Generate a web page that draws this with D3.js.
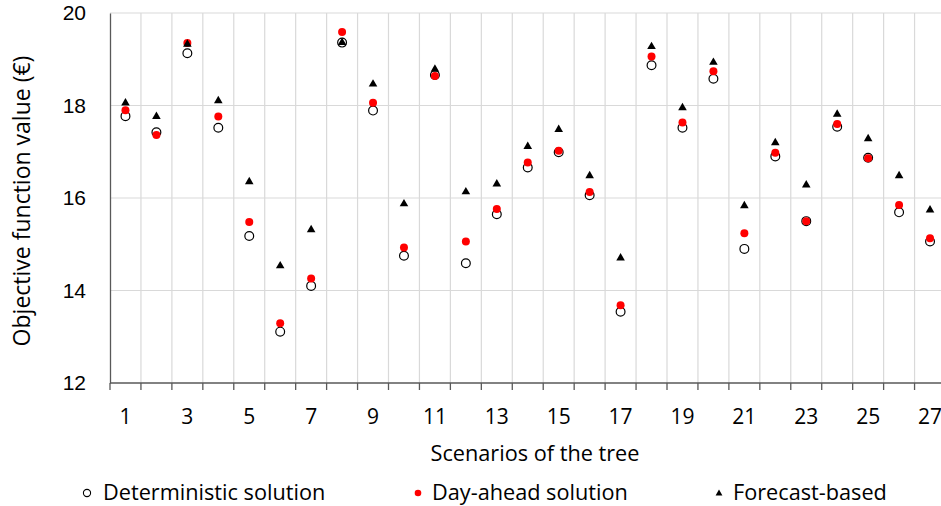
<!DOCTYPE html>
<html>
<head>
<meta charset="utf-8">
<script src="https://cdn.jsdelivr.net/npm/d3@7"></script>
<style>
  html, body { margin: 0; padding: 0; background: #fff; }
  svg { display: block; font-family: "Open Sans", "Liberation Sans", sans-serif; }
</style>
</head>
<body>
<svg id="chart" width="941" height="506"></svg>
<script>
const scenarios = d3.range(1, 28);
const deterministic = [17.77, 17.42, 19.13, 17.52, 15.18, 13.11, 14.10, 19.36, 17.89, 14.75,
  18.66, 14.59, 15.65, 16.66, 16.99, 16.06, 13.54, 18.87, 17.52, 18.58, 14.90, 16.90, 15.50,
  17.54, 16.87, 15.69, 15.06];
const dayAhead = [17.90, 17.36, 19.35, 17.76, 15.48, 13.29, 14.26, 19.59, 18.06, 14.93,
  18.64, 15.06, 15.76, 16.77, 17.02, 16.13, 13.68, 19.06, 17.63, 18.74, 15.24, 16.98, 15.50,
  17.60, 16.86, 15.85, 15.13];
const forecastBased = [18.07, 17.78, 19.34, 18.12, 16.37, 14.55, 15.33, 19.38, 18.48, 15.89,
  18.80, 16.15, 16.32, 17.13, 17.50, 16.50, 14.72, 19.29, 17.97, 18.95, 15.85, 17.21, 16.30,
  17.83, 17.30, 16.50, 15.76];
const yTicks = [12, 14, 16, 18, 20];
const seriesNames = ["Deterministic solution", "Day-ahead solution", "Forecast-based"];

const svg = d3.select("#chart");
const x = d3.scaleBand().domain(scenarios).range([110, 945.5]).padding(0);
const y = d3.scaleLinear().domain([12, 20]).range([383, 13]);
const gridColor = "#d9d9d9";
const axisColor = "#595959";
const fs = 21.7;
const fsTick = 21;

// vertical gridlines at category boundaries
svg.append("g").selectAll("line").data(scenarios.slice(1)).join("line")
  .attr("x1", d => x(d)).attr("x2", d => x(d))
  .attr("y1", y(20)).attr("y2", y(12))
  .attr("stroke", gridColor).attr("stroke-width", 1.2);

// horizontal gridlines
svg.append("g").selectAll("line").data(yTicks.filter(t => t > 12)).join("line")
  .attr("x1", 110).attr("x2", 945.5)
  .attr("y1", d => y(d)).attr("y2", d => y(d))
  .attr("stroke", gridColor).attr("stroke-width", 1.2);

// y axis
const yAxis = svg.append("g").attr("transform", "translate(110,0)")
  .call(d3.axisLeft(y).tickValues(yTicks).tickSize(0).tickPadding(24).tickFormat(d3.format("d")));
yAxis.select(".domain").attr("stroke", axisColor).attr("stroke-width", 1.3);
yAxis.selectAll("text").attr("font-size", fsTick).attr("fill", "#000").attr("font-family", null);

// x axis with ticks at band boundaries
const xAxisG = svg.append("g").attr("transform", `translate(0,${y(12)})`);
xAxisG.append("line").attr("x1", 110).attr("x2", 945.5).attr("y1", 0).attr("y2", 0)
  .attr("stroke", axisColor).attr("stroke-width", 1.3);
xAxisG.selectAll("line.tick").data(scenarios).join("line").attr("class", "tick")
  .attr("x1", d => x(d)).attr("x2", d => x(d)).attr("y1", 0).attr("y2", 7)
  .attr("stroke", axisColor).attr("stroke-width", 1.3);
xAxisG.selectAll("text").data(scenarios.filter(d => d % 2 === 1)).join("text")
  .attr("x", d => x(d) + x.bandwidth() / 2).attr("y", 41)
  .attr("text-anchor", "middle").attr("font-size", fsTick).attr("fill", "#000")
  .text(d => d);

// axis titles
svg.append("text").attr("x", 535).attr("y", 461).attr("text-anchor", "middle")
  .attr("font-size", fs).attr("fill", "#000").text("Scenarios of the tree");
svg.append("text").attr("transform", "translate(30,201) rotate(-90)")
  .attr("text-anchor", "middle").attr("font-size", 23).attr("fill", "#000")
  .text("Objective function value (€)");

const cx = (d, i) => x(scenarios[i]) + x.bandwidth() / 2;
const plot = svg.append("g");
plot.selectAll("circle.det").data(deterministic).join("circle").attr("class", "det")
  .attr("cx", cx).attr("cy", d => y(d)).attr("r", 4.4)
  .attr("fill", "#fff").attr("stroke", "#000").attr("stroke-width", 1.2);
plot.selectAll("circle.da").data(dayAhead).join("circle").attr("class", "da")
  .attr("cx", cx).attr("cy", d => y(d)).attr("r", 4)
  .attr("fill", "#ff0000");
const tri = d3.symbol().type(d3.symbolTriangle).size(32);
plot.selectAll("path.fb").data(forecastBased).join("path").attr("class", "fb")
  .attr("transform", (d, i) => `translate(${cx(d, i)},${y(d) + 0.8})`)
  .attr("d", tri).attr("fill", "#000");

// legend
const leg = svg.append("g");
const legY = 493;
leg.append("circle").attr("cx", 87).attr("cy", legY).attr("r", 3.6)
  .attr("fill", "#fff").attr("stroke", "#000").attr("stroke-width", 1.1);
leg.append("text").attr("x", 103).attr("y", 500).attr("font-size", fs).text(seriesNames[0]);
leg.append("circle").attr("cx", 418).attr("cy", legY).attr("r", 3.3).attr("fill", "#ff0000");
leg.append("text").attr("x", 432).attr("y", 500).attr("font-size", fs).text(seriesNames[1]);
leg.append("path").attr("transform", `translate(719,${legY + 0.5})`)
  .attr("d", d3.symbol().type(d3.symbolTriangle).size(20)).attr("fill", "#000");
leg.append("text").attr("x", 733).attr("y", 500).attr("font-size", fs).text(seriesNames[2]);
</script>
</body>
</html>
